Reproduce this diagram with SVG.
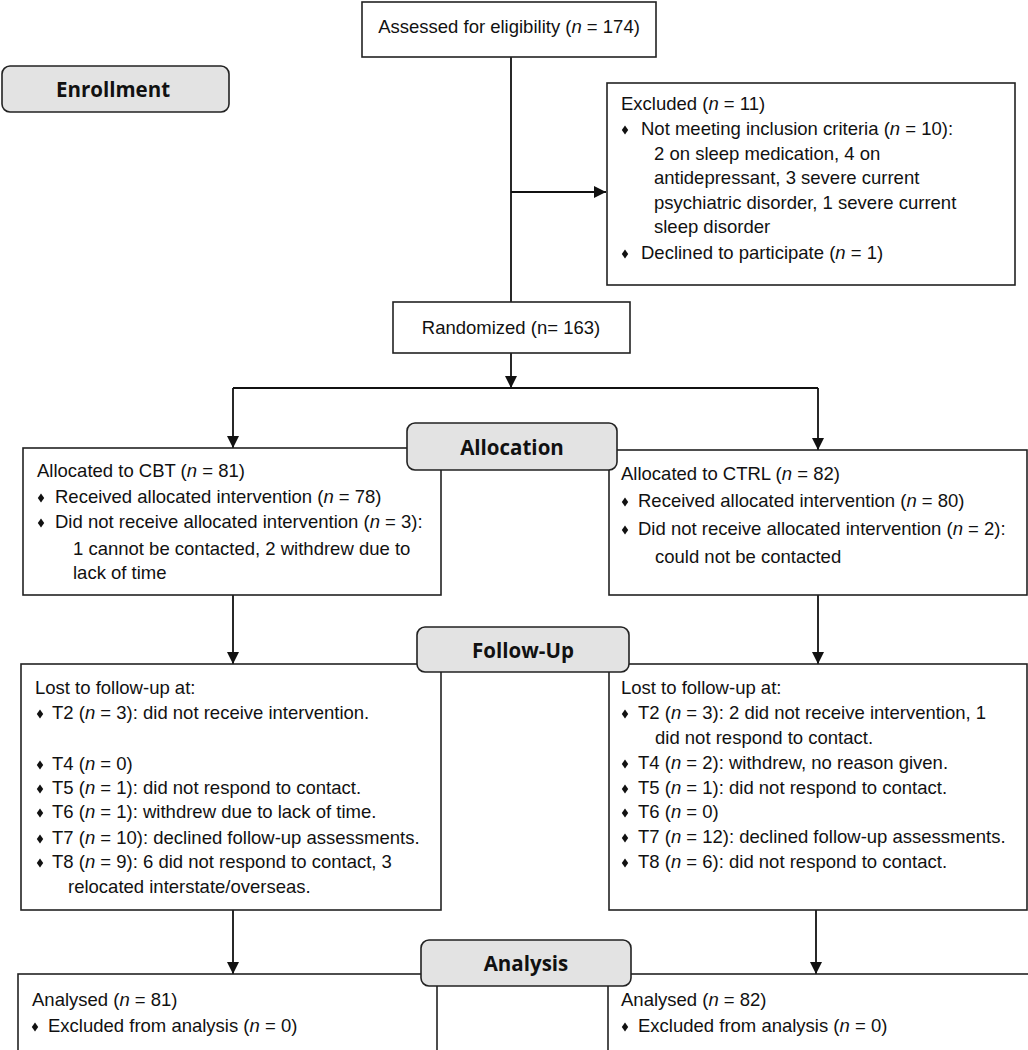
<svg xmlns="http://www.w3.org/2000/svg" width="1028" height="1050" viewBox="0 0 1028 1050">
<style>
.box{fill:#fff;stroke:#222;stroke-width:1.6}
.stage{fill:#e3e3e3;stroke:#222;stroke-width:1.6}
.t{font-family:"Liberation Sans",Arial,sans-serif;font-size:18.5px;fill:#111}
.h{font-family:"Open Sans","Noto Sans",sans-serif;font-weight:700;font-size:20.5px;fill:#111;text-anchor:middle}
.i{font-style:italic}
.ln{stroke:#111;stroke-width:1.8;fill:none}
.b{fill:#111}
</style>
<defs>
<marker id="ah" markerUnits="userSpaceOnUse" markerWidth="12" markerHeight="14" refX="12" refY="6" orient="auto">
<path d="M0,0 L12,6 L0,12 Z" fill="#111"/>
</marker>
<path id="dia" d="M0,-4.5 L3.2,0 L0,4.5 L-3.2,0 Z"/>
</defs>

<g id="connectors">
<line class="ln" x1="511" y1="57" x2="511" y2="302"/>
<line class="ln" x1="511" y1="192" x2="606" y2="192" marker-end="url(#ah)"/>
<line class="ln" x1="511" y1="353" x2="511" y2="388" marker-end="url(#ah)"/>
<polyline class="ln" points="233,388 818,388"/>
<line class="ln" x1="233" y1="388" x2="233" y2="448" marker-end="url(#ah)"/>
<line class="ln" x1="818" y1="388" x2="818" y2="450" marker-end="url(#ah)"/>
<line class="ln" x1="233" y1="595" x2="233" y2="664" marker-end="url(#ah)"/>
<line class="ln" x1="818" y1="595" x2="818" y2="664" marker-end="url(#ah)"/>
<line class="ln" x1="233" y1="910" x2="233" y2="974" marker-end="url(#ah)"/>
<line class="ln" x1="816" y1="910" x2="816" y2="974" marker-end="url(#ah)"/>
</g>

<g id="assessed">
<rect class="box" x="362" y="2" width="294" height="55"/>
<text class="t" x="509" y="33" text-anchor="middle">Assessed for eligibility (<tspan class="i">n</tspan> = 174)</text>
</g>

<g id="enrollment">
<rect class="stage" x="2" y="66" width="227" height="46" rx="8"/>
<text class="h" x="113" y="97">Enrollment</text>
</g>

<g id="excluded">
<rect class="box" x="607" y="83" width="408" height="202"/>
<text class="t" x="621" y="110">Excluded (<tspan class="i">n</tspan> = 11)</text>
<use href="#dia" class="b" x="625" y="130"/>
<text class="t" x="641" y="135">Not meeting inclusion criteria (<tspan class="i">n</tspan> = 10):</text>
<text class="t" x="654" y="160">2 on sleep medication, 4 on</text>
<text class="t" x="654" y="184">antidepressant, 3 severe current</text>
<text class="t" x="654" y="209">psychiatric disorder, 1 severe current</text>
<text class="t" x="654" y="233">sleep disorder</text>
<use href="#dia" class="b" x="625" y="254"/>
<text class="t" x="641" y="259">Declined to participate (<tspan class="i">n</tspan> = 1)</text>
</g>

<g id="randomized">
<rect class="box" x="393" y="302" width="237" height="51"/>
<text class="t" x="511" y="334" text-anchor="middle">Randomized (n= 163)</text>
</g>

<g id="cbt-alloc">
<rect class="box" x="23" y="448" width="418" height="147"/>
<text class="t" x="37" y="477">Allocated to CBT (<tspan class="i">n</tspan> = 81)</text>
<use href="#dia" class="b" x="41" y="498"/>
<text class="t" x="55" y="503">Received allocated intervention (<tspan class="i">n</tspan> = 78)</text>
<use href="#dia" class="b" x="41" y="523"/>
<text class="t" x="55" y="528">Did not receive allocated intervention (<tspan class="i">n</tspan> = 3):</text>
<text class="t" x="73" y="555">1 cannot be contacted, 2 withdrew due to</text>
<text class="t" x="73" y="579">lack of time</text>
</g>

<g id="ctrl-alloc">
<rect class="box" x="609" y="450" width="418" height="145"/>
<text class="t" x="621" y="480">Allocated to CTRL (<tspan class="i">n</tspan> = 82)</text>
<use href="#dia" class="b" x="625" y="502"/>
<text class="t" x="638" y="507">Received allocated intervention (<tspan class="i">n</tspan> = 80)</text>
<use href="#dia" class="b" x="625" y="530"/>
<text class="t" x="638" y="535">Did not receive allocated intervention (<tspan class="i">n</tspan> = 2):</text>
<text class="t" x="655" y="563">could not be contacted</text>
</g>

<g id="allocation">
<rect class="stage" x="407" y="423" width="210" height="47" rx="8"/>
<text class="h" x="512" y="455">Allocation</text>
</g>

<g id="cbt-followup">
<rect class="box" x="21" y="664" width="420" height="246"/>
<text class="t" x="35" y="694">Lost to follow-up at:</text>
<use href="#dia" class="b" x="40" y="714"/>
<text class="t" x="52" y="719">T2 (<tspan class="i">n</tspan> = 3): did not receive intervention.</text>
<use href="#dia" class="b" x="40" y="765"/>
<text class="t" x="52" y="770">T4 (<tspan class="i">n</tspan> = 0)</text>
<use href="#dia" class="b" x="40" y="789"/>
<text class="t" x="52" y="794">T5 (<tspan class="i">n</tspan> = 1): did not respond to contact.</text>
<use href="#dia" class="b" x="40" y="813"/>
<text class="t" x="52" y="818">T6 (<tspan class="i">n</tspan> = 1): withdrew due to lack of time.</text>
<use href="#dia" class="b" x="40" y="839"/>
<text class="t" x="52" y="844">T7 (<tspan class="i">n</tspan> = 10): declined follow-up assessments.</text>
<use href="#dia" class="b" x="40" y="863"/>
<text class="t" x="52" y="868">T8 (<tspan class="i">n</tspan> = 9): 6 did not respond to contact, 3</text>
<text class="t" x="68" y="893">relocated interstate/overseas.</text>
</g>

<g id="ctrl-followup">
<rect class="box" x="609" y="664" width="418" height="246"/>
<text class="t" x="621" y="694">Lost to follow-up at:</text>
<use href="#dia" class="b" x="625" y="714"/>
<text class="t" x="638" y="719">T2 (<tspan class="i">n</tspan> = 3): 2 did not receive intervention, 1</text>
<text class="t" x="655" y="744">did not respond to contact.</text>
<use href="#dia" class="b" x="625" y="764"/>
<text class="t" x="638" y="769">T4 (<tspan class="i">n</tspan> = 2): withdrew, no reason given.</text>
<use href="#dia" class="b" x="625" y="789"/>
<text class="t" x="638" y="794">T5 (<tspan class="i">n</tspan> = 1): did not respond to contact.</text>
<use href="#dia" class="b" x="625" y="813"/>
<text class="t" x="638" y="818">T6 (<tspan class="i">n</tspan> = 0)</text>
<use href="#dia" class="b" x="625" y="838"/>
<text class="t" x="638" y="843">T7 (<tspan class="i">n</tspan> = 12): declined follow-up assessments.</text>
<use href="#dia" class="b" x="625" y="863"/>
<text class="t" x="638" y="868">T8 (<tspan class="i">n</tspan> = 6): did not respond to contact.</text>
</g>

<g id="followup">
<rect class="stage" x="417" y="627" width="212" height="45" rx="8"/>
<text class="h" x="523" y="658">Follow-Up</text>
</g>

<g id="cbt-analysis">
<rect class="box" x="18" y="974" width="419" height="90"/>
<text class="t" x="32" y="1006">Analysed (<tspan class="i">n</tspan> = 81)</text>
<use href="#dia" class="b" x="35" y="1027"/>
<text class="t" x="48" y="1032">Excluded from analysis (<tspan class="i">n</tspan> = 0)</text>
</g>

<g id="ctrl-analysis">
<rect class="box" x="608" y="974" width="430" height="90"/>
<text class="t" x="621" y="1006">Analysed (<tspan class="i">n</tspan> = 82)</text>
<use href="#dia" class="b" x="625" y="1027"/>
<text class="t" x="638" y="1032">Excluded from analysis (<tspan class="i">n</tspan> = 0)</text>
</g>

<g id="analysis">
<rect class="stage" x="421" y="940" width="210" height="46" rx="8"/>
<text class="h" x="526" y="971">Analysis</text>
</g>
</svg>
